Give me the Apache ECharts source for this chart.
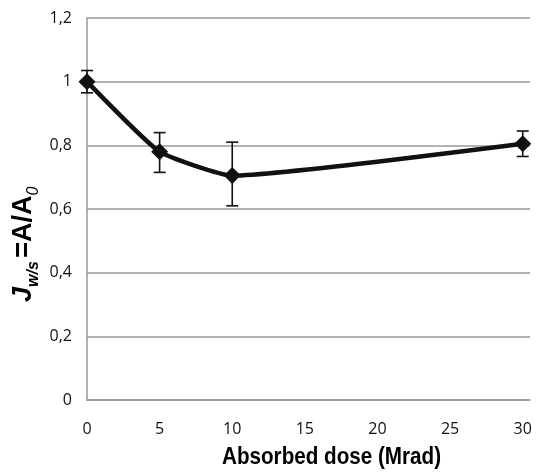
<!DOCTYPE html>
<html>
<head>
<meta charset="utf-8">
<script src="https://cdn.jsdelivr.net/npm/echarts@6/dist/echarts.min.js"></script>
<style>
  html, body { margin: 0; padding: 0; background: #fff; }
  #main { width: 538px; height: 473px; }
</style>
</head>
<body>
<div id="main"></div>
<script>
// dose (Mrad) and relative value
var doses = [0, 5, 10, 30];
var values = [1.0, 0.78, 0.705, 0.805];
var errLow = [0.965, 0.715, 0.61, 0.765];
var errHigh = [1.035, 0.84, 0.81, 0.845];
var xTicks = [0, 5, 10, 15, 20, 25, 30];
var yTicks = [0, 0.2, 0.4, 0.6, 0.8, 1, 1.2];

var myChart = echarts.init(document.getElementById('main'));

var lineData = [];
var errData = [];
for (var i = 0; i < doses.length; i++) {
    lineData.push([doses[i], values[i]]);
    errData.push([doses[i], errLow[i], errHigh[i]]);
}

var labelFont = 'Open Sans';

var option = {
    animation: false,
    grid: { left: 87, top: 18, right: 8, bottom: 73 },
    xAxis: {
        type: 'value',
        min: 0,
        max: 30.5,
        interval: 5,
        axisLine: { show: true, lineStyle: { color: '#999', width: 1.5 } },
        axisTick: { show: false },
        splitLine: { show: false },
        axisLabel: {
            color: '#111',
            fontFamily: labelFont,
            fontSize: 16,
            margin: 21,
            formatter: function(v) {
                return xTicks.indexOf(v) >= 0 ? String(v) : '';
            }
        }
    },
    yAxis: {
        type: 'value',
        min: 0,
        max: 1.2,
        interval: 0.2,
        axisLine: { show: true, lineStyle: { color: '#999', width: 1.5 } },
        axisTick: { show: false },
        splitLine: { show: true, lineStyle: { color: '#999', width: 1.5 } },
        axisLabel: {
            color: '#111',
            fontFamily: labelFont,
            fontSize: 16,
            margin: 15,
            formatter: function(v) {
                var t = yTicks.find(function(k) { return Math.abs(k - v) < 1e-6; });
                return t === undefined ? '' : String(+t.toFixed(1)).replace('.', ',');
            }
        }
    },
    graphic: [{
        // narrow bold title, squeezed sideways
        type: 'text',
        x: 222,
        y: 445,
        scaleX: 0.86,
        style: {
            text: 'Absorbed dose (Mrad)',
            fontFamily: 'Liberation Sans',
            fontWeight: 'bold',
            fontSize: 24,
            fill: '#000'
        }
    }, {
        type: 'text',
        x: 10,
        y: 302,
        rotation: Math.PI / 2,
        style: {
            text: '{j|J}{s|w/s} {m|=A/A}{s2|0}',
            fill: '#000',
            rich: {
                j: { fontFamily: 'Liberation Sans', fontWeight: 'bold', fontStyle: 'italic', fontSize: 27, lineHeight: 32, verticalAlign: 'top' },
                s: { fontFamily: 'Liberation Sans', fontWeight: 'bold', fontStyle: 'italic', fontSize: 16, lineHeight: 32, verticalAlign: 'bottom' },
                m: { fontFamily: 'Liberation Sans', fontWeight: 'bold', fontSize: 27, lineHeight: 32, verticalAlign: 'top' },
                s2: { fontFamily: 'Liberation Sans', fontStyle: 'italic', fontSize: 16, lineHeight: 32, verticalAlign: 'bottom' }
            }
        }
    }],
    series: [{
        type: 'line',
        data: lineData,
        smooth: 0.15,
        symbol: 'diamond',
        symbolSize: 17,
        lineStyle: { color: '#111', width: 4.5 },
        itemStyle: { color: '#111' },
        z: 3
    }, {
        type: 'custom',
        data: errData,
        z: 4,
        renderItem: function(params, api) {
            var x = api.value(0);
            var lo = api.coord([x, api.value(1)]);
            var hi = api.coord([x, api.value(2)]);
            var cap = 6;
            var st = { stroke: '#111', lineWidth: 1.6 };
            return {
                type: 'group',
                children: [
                    { type: 'line', shape: { x1: lo[0], y1: lo[1], x2: hi[0], y2: hi[1] }, style: st },
                    { type: 'line', shape: { x1: lo[0] - cap, y1: lo[1], x2: lo[0] + cap, y2: lo[1] }, style: st },
                    { type: 'line', shape: { x1: hi[0] - cap, y1: hi[1], x2: hi[0] + cap, y2: hi[1] }, style: st }
                ]
            };
        }
    }]
};
myChart.setOption(option);
</script>
</body>
</html>
